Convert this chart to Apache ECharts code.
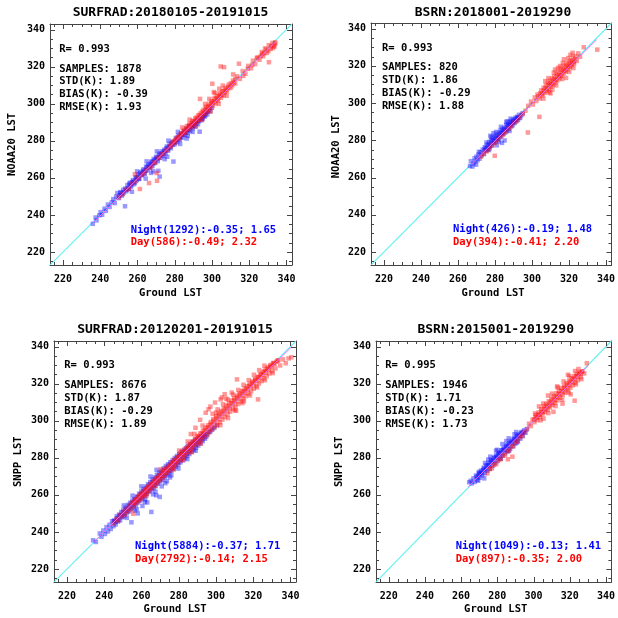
<!DOCTYPE html>
<html><head><meta charset="utf-8">
<script src="https://cdn.jsdelivr.net/npm/echarts@6/dist/echarts.min.js"></script>
<style>html,body{margin:0;padding:0;background:#fff}#c{width:618px;height:618px}</style>
</head><body><div id="c"></div>
<script>
// ---------- axis values ----------
const axisRange = [213, 343];
const majorTicks = [220, 240, 260, 280, 300, 320, 340];
const minorTicks = [215, 225, 230, 235, 245, 250, 255, 265, 270, 275, 285, 290, 295, 305, 310, 315, 325, 330, 335];

// ---------- texts ----------
const titles = ['SURFRAD:20180105-20191015', 'BSRN:2018001-2019290', 'SURFRAD:20120201-20191015', 'BSRN:2015001-2019290'];
const xNames = ['Ground LST', 'Ground LST', 'Ground LST', 'Ground LST'];
const yNames = ['NOAA20 LST', 'NOAA20 LST', 'SNPP LST', 'SNPP LST'];
const rValues = ['0.993', '0.993', '0.993', '0.995'];
const sampleCounts = ['1878', '820', '8676', '1946'];
const stdValues = ['1.89', '1.86', '1.87', '1.71'];
const biasValues = ['-0.39', '-0.29', '-0.29', '-0.23'];
const rmseValues = ['1.93', '1.88', '1.89', '1.73'];
const nightTexts = ['Night(1292):-0.35; 1.65', 'Night(426):-0.19; 1.48', 'Night(5884):-0.37; 1.71', 'Night(1049):-0.13; 1.41'];
const dayTexts = ['Day(586):-0.49; 2.32', 'Day(394):-0.41; 2.20', 'Day(2792):-0.14; 2.15', 'Day(897):-0.35; 2.00'];

// ---------- data: [ground LST, satellite LST] ----------
const n20SurfNight = [[236,235.2],[237.5,238.6],[238,237.1],[239.5,239.8],[240.2,241.5],[241,240.1],[242.3,243.4],[243,242.2],[244.1,245.6],[245,244.3],[246.2,246.9],[247,248.5],[247.8,246.4],[248.5,249.9],[249.2,251.8],[250,249.1],[250.8,252.3],[251.5,250.4],[252.3,253.6],[253.3,244.7],[253.9,252.8],[254.6,256.1],[255.2,254.0],[256,257.4],[256.7,255.9],[257.5,258.8],[258.1,256.6],[259,260.3],[259.6,258.7],[260.4,261.9],[261,259.5],[261.8,263.1],[262.5,261.4],[263.2,264.6],[263.9,262.2],[264.6,266.0],[265.2,264.1],[266,267.5],[266.7,265.3],[267.4,268.6],[268,266.4],[268.7,270.2],[269.5,268.1],[270.2,271.4],[270.9,269.0],[271.2,263.8],[271.6,273.0],[271.9,260.7],[272.3,270.8],[273,274.3],[273.6,271.9],[274.4,275.2],[275,273.1],[275.8,276.9],[276.5,274.7],[277.2,278.3],[277.9,276.0],[278.6,279.4],[279.3,268.8],[279.9,278.1],[280.6,281.5],[281.3,279.2],[282,282.8],[282.7,280.4],[283.4,283.9],[284.1,281.6],[284.8,285.2],[285.5,283.1],[286.2,286.4],[286.9,284.3],[287.6,287.9],[288.3,285.4],[289,288.6],[289.7,286.8],[290.4,289.8],[291.1,287.6],[291.8,290.7],[292.5,288.9],[293.4,284.9],[293.9,291.9],[294.6,292.2],[295.3,293.4],[296,293.0],[296.8,295.1],[297.5,294.3],[298.3,296.4],[299.1,296.0],[300,297.8],[264.4,259.6],[268.5,263.5],[257,252.5],[276,271.4],[287,282.6]];
const n20SurfNightCore = [[250.4,250.6],[251.1,251.9],[251.9,251.3],[252.7,252.1],[253.4,254.2],[254.1,253.5],[254.9,254.4],[255.6,256.8],[256.3,255.2],[257.1,257.6],[257.8,258.0],[258.5,257.3],[259.3,259.9],[260,260.6],[260.7,259.4],[261.4,262.4],[262.2,261.8],[262.9,263.8],[263.6,262.9],[264.3,264.0],[265,265.7],[265.7,266.5],[266.4,265.9],[267.1,267.4],[267.8,268.9],[268.5,267.7],[269.2,269.5],[269.9,270.8],[270.6,270.1],[271.3,271.0],[272,272.4],[272.7,273.2],[273.4,272.6],[274.1,274.0],[274.8,274.3],[275.5,276.1],[276.2,275.5],[276.9,276.4],[277.6,277.0],[278.3,278.6],[279,277.8],[279.7,279.2],[280.4,279.6],[281.1,280.7],[281.8,280.9],[282.5,282.2],[283.2,282.1],[283.9,283.3],[284.6,283.4],[285.3,284.6],[286,284.8],[286.7,285.9],[287.4,286.0],[288.1,287.2],[288.8,287.5],[289.5,288.4],[290.2,288.1],[290.9,289.6],[291.6,289.4],[292.3,291.0],[293,290.5],[293.7,292.4],[294.4,291.1],[295.1,292.0],[295.8,294.2],[296.5,293.7],[297.2,295.6],[267.3,262.7],[274.6,270.1],[282.9,278.3],[289.6,284.8],[286.4,281.2],[259.8,263.5],[264.9,268.9],[270.4,274.3],[276.6,280.1],[281.7,284.8]];
const n20SurfDay = [[250,249.5],[252,251.2],[254,253.6],[255.5,254.2],[257,256.8],[258.6,262],[259,258.1],[260.5,259.9],[261.3,254],[262,261.6],[263.5,262.4],[264.5,263.9],[266.2,257.2],[266,265.4],[267.5,266.1],[268.5,268.3],[269.5,268.2],[270.3,262.6],[270.5,258.4],[271,270.6],[272,271.1],[273,272.8],[274,272.9],[275,274.8],[276,275.0],[277,276.9],[278,277.1],[279,279.3],[280,278.8],[281,281.2],[282,281.0],[283,283.4],[284,283.2],[285,285.8],[285.8,284.4],[286.5,287.9],[287.3,286.1],[288,289.2],[288.8,287.3],[289.5,290.6],[290.3,289.0],[291,292.1],[291.8,290.2],[292.5,293.6],[293.3,291.4],[293.6,302.6],[294,295.0],[294.8,293.1],[295.5,296.7],[296.2,294.6],[297,298.3],[297.7,296.0],[298.4,299.9],[299.1,297.6],[299.8,301.4],[300.2,310.8],[300.5,299.0],[301,306.3],[301.2,302.8],[301.9,300.3],[302.6,304.2],[303.3,301.7],[304,305.6],[304.7,320.1],[304.8,303.2],[305.5,306.9],[306.3,304.6],[306.5,319.7],[307,308.5],[308,306.7],[309,310.3],[310.2,308.8],[311.3,312.5],[312.5,310.9],[313.5,314.8],[314.5,321.6],[315,313.4],[316.5,317.6],[318,316.2],[319.5,320.4],[321,319.1],[322,323.2],[323.2,321.4],[324.5,325.0],[325.5,323.7],[326.8,327.9],[327,326.9],[327.5,325.6],[328.5,329.8],[329.5,327.4],[330.6,322.4],[330.5,331.6],[331.5,329.6],[332.5,332.8],[333.3,331.4],[333.5,330.8],[334,333.1]];
const n20SurfDayCore = [[278.5,278.2],[279.5,279.9],[280.5,280.4],[281.5,281.9],[282.5,282.0],[283.5,284.1],[284.5,284.2],[285.3,285.0],[286.1,286.7],[286.9,286.6],[287.7,288.3],[288.5,287.9],[289.3,289.5],[290.1,290.8],[290.9,290.2],[291.7,292.5],[292.5,291.6],[293.3,294.0],[294.1,293.4],[294.9,295.8],[295.7,295.0],[296.5,297.6],[297.3,296.7],[298.1,298.8],[298.9,298.2],[299.7,300.3],[300.5,300.6],[301.3,301.2],[302.1,302.9],[302.9,302.4],[303.7,304.0],[304.5,304.9],[305.3,304.4],[306.1,306.8],[306.9,306.0],[307.7,307.6],[308.5,309.1],[309.3,308.4],[310.1,311.0],[310.9,310.0],[311.7,311.4],[312.5,313.3],[296.3,299.9],[298.6,302.6],[301.5,305.7],[303.9,308.1],[305.8,309.8],[294.7,291.3],[299.2,295.7],[303.6,299.9],[307.9,304.3],[291.4,287.9],[288,291.4],[284,287.2],[311.4,315.8],[316.8,315.0],[319.2,318.8],[321.6,320.9],[324.1,324.6],[326.2,325.7],[328.1,327.3],[329.2,329.3],[330.3,328.4],[331.8,331.0],[332.8,330.0],[333.9,332.4]];

const n20BsrnNight = [[266.5,266.2],[267,268.8],[267.8,265.9],[268.4,267.5],[269,270.3],[269.5,268.6],[270,271.2],[270.6,269.3],[271.1,272.4],[271.7,270.1],[272.2,273.6],[272.8,271.9],[273.4,275.0],[274,272.6],[274.5,276.3],[275.1,274.4],[275.7,277.5],[276.2,275.0],[276.8,279.1],[277.3,276.4],[277.9,280.0],[278.4,277.2],[278.9,281.3],[279.5,278.6],[280,282.2],[280.5,279.4],[281,283.1],[281.5,280.5],[282,284.0],[282.5,281.6],[283,285.2],[283.5,282.3],[284,286.0],[284.5,283.4],[285,286.7],[285.5,284.1],[286,288.2],[286.5,285.3],[287,288.8],[287.5,286.2],[288,289.6],[288.5,287.4],[289,290.5],[289.5,288.0],[290,291.3],[290.5,289.2],[291,292.0],[291.5,290.1],[292,292.6],[292.5,291.0],[293,293.7],[293.6,292.0],[294.2,293.4],[295,294.6],[283.8,278.6],[285.2,279.9],[281,277.3],[277.5,282.4],[279.2,283.8],[286.8,290.2],[269.8,266.9]];
const n20BsrnNightCore = [[274.3,274.8],[275,275.9],[275.8,275.7],[276.5,277.8],[277.2,277.1],[278,278.5],[278.7,279.9],[279.4,279.6],[280.2,280.7],[280.9,281.8],[281.6,281.1],[282.3,282.8],[283.1,284.1],[283.8,283.9],[284.5,285.1],[285.3,286.0],[286,285.6],[286.7,287.3],[287.4,288.0],[288.2,288.3],[288.9,289.2],[289.6,289.9],[290.3,290.3],[291.1,291.0],[291.8,292.0],[292.6,292.2],[280.6,284.5],[283.2,287.2],[286.1,289.9],[278.1,281.8],[275.4,278.8],[288.4,291.6],[282.1,279.4],[287.9,285.0],[276.8,274.7],[271.3,273.8]];
const n20BsrnDay = [[272.5,271.2],[274,272.8],[275.5,274.0],[277,275.6],[278.5,277.3],[279.9,271.7],[280,278.6],[281.5,280.2],[283,281.9],[284.5,283.1],[286,284.6],[287.5,286.4],[289,287.6],[290.5,289.5],[292,290.6],[293.5,292.4],[295,294.1],[296.5,295.9],[297.8,284.2],[298,298.5],[299.5,300.8],[300.5,299.2],[301.5,303.0],[302.3,301.1],[303,304.6],[304,292.6],[304.2,302.4],[305,306.8],[305.6,304.1],[306.3,308.2],[306.9,305.5],[307.5,309.6],[308,306.3],[308.6,310.9],[309.2,307.5],[309.8,312.0],[310.3,308.9],[310.9,313.2],[311.5,309.7],[312,314.3],[312.6,311.0],[313.2,315.6],[313.7,312.1],[314.3,316.7],[314.9,313.3],[315.4,317.9],[316,314.6],[316.5,319.0],[317.1,315.8],[317.6,320.1],[318.2,316.9],[318.8,321.3],[319.3,318.0],[319.9,322.2],[320.5,319.2],[321,323.0],[321.6,320.3],[322.2,324.5],[322.8,321.1],[323.5,325.2],[324.2,322.6],[325,326.7],[322,327],[328,330],[335.3,328.7],[326,324.8],[310,305.2],[312.5,318.0],[315.2,319.9],[318.4,313.5],[307.2,311.8]];
const n20BsrnDayCore = [[303.5,303.6],[304.5,305.3],[305.5,305.0],[306.4,306.6],[307.3,307.9],[308.2,307.8],[309,309.6],[309.8,310.4],[310.6,310.3],[311.4,311.8],[312.2,312.7],[313,312.6],[313.8,314.3],[314.6,315.1],[315.4,314.8],[316.2,316.5],[317,317.6],[317.8,317.4],[318.6,319.2],[319.4,320.0],[320.2,319.7],[321,321.2],[321.8,322.3],[322.6,322.0],[323.4,323.6],[308.9,313.4],[311.8,316.4],[314.1,318.9],[316.7,321.6],[319.6,324.2],[306.2,302.4],[309.4,305.7],[313.1,309.5],[316.3,312.9],[320.1,316.7],[322.4,318.8],[317.3,323.5],[320.8,325.9],[311,307.2]];

const snppSurfNight = [[234,235.5],[235.5,234.6],[237.6,239.2],[238.5,237.4],[239.5,240.8],[240.4,238.9],[241.2,242.6],[242,240.3],[242.8,243.9],[243.5,241.6],[244.2,245.8],[244.9,243.1],[245.5,246.2],[246.1,244.0],[246.7,248.4],[247.3,245.6],[247.9,249.3],[248.5,246.2],[249.1,250.7],[249.7,247.9],[250.3,251.9],[250.9,248.6],[251.5,253.0],[252.1,250.2],[252.7,254.6],[253.3,251.1],[253.9,255.7],[254.6,245.2],[254.5,252.4],[255.1,256.9],[255.7,253.5],[256.3,257.8],[256.9,254.4],[257.5,259.1],[258,250],[258.1,255.9],[258.7,260.6],[259.3,257.0],[259.9,261.8],[260.5,258.1],[261.1,263.2],[261.7,259.6],[262.3,264.5],[262.9,260.3],[263.5,265.8],[264.1,261.7],[264.7,266.9],[265.3,250.8],[265.3,262.8],[265.9,268.3],[266.5,263.6],[267.1,269.4],[267.7,264.7],[268.3,270.8],[268.9,266.0],[269.5,272.1],[269.8,258.9],[270.1,267.2],[270.7,273.0],[271.3,268.3],[271.9,274.4],[272.5,269.5],[273.1,275.6],[273.7,270.6],[274.3,276.5],[274.9,271.7],[275.5,277.6],[276.1,272.9],[276.7,278.8],[277.3,274.0],[277.9,279.9],[278.5,275.2],[279.1,281.0],[279.7,276.3],[280.3,282.1],[280.9,277.5],[281.5,283.2],[282.1,278.6],[282.7,284.1],[283.3,279.8],[283.9,285.3],[284.5,280.9],[285.1,286.4],[285.7,282.0],[286.3,287.4],[286.9,283.2],[287.5,288.5],[288.1,284.3],[288.7,289.4],[289.3,285.4],[289.9,290.2],[290.5,286.6],[291.1,291.1],[291.7,287.8],[292.3,291.8],[292.9,289.0],[293.5,292.4],[294.1,290.3],[294.8,291.3],[295.5,292.6],[296.2,293.9],[297,294.2],[298,295.4],[299,296.1],[300.5,297.4],[262,257.5],[260.5,254],[267.5,261.8],[272.8,266.3],[256.5,251.5],[276,270.5]];
const snppSurfNightCore = [[245.2,245.9],[246,245.3],[246.8,247.4],[247.6,246.6],[248.4,249.0],[249.2,248.4],[250,250.6],[250.8,249.8],[251.6,252.3],[252.4,251.5],[253.2,253.9],[254,253.1],[254.8,255.7],[255.6,254.6],[256.4,257.3],[257.2,256.1],[258,258.7],[258.8,257.6],[259.6,260.4],[260.4,259.2],[261.2,261.9],[262,260.9],[262.8,263.6],[263.6,262.4],[264.4,265.2],[265.2,263.9],[266,266.8],[266.8,265.4],[267.6,268.5],[268.4,266.9],[269.2,270.1],[270,268.5],[270.8,271.6],[271.6,270.1],[272.4,273.2],[273.2,271.6],[274,274.7],[274.8,273.1],[275.6,276.2],[276.4,274.6],[277.2,277.8],[278,276.3],[278.8,279.3],[279.6,277.7],[280.4,280.8],[281.2,279.3],[282,282.2],[282.8,280.8],[283.6,283.6],[284.4,282.3],[285.2,285.1],[286,283.8],[286.8,286.6],[287.6,285.3],[288.4,287.9],[289.2,286.9],[290,289.1],[290.8,288.4],[291.6,290.5],[292.4,290.1],[293.2,291.6],[294,292.8],[250.5,254.3],[255.2,259.6],[259.9,264.6],[264.8,269.9],[268.1,273.5],[252.1,247.6],[257.4,252.3],[261.8,256.1],[266.2,260.3],[270.9,264.6],[275.3,269.4],[279.8,274.2],[284.6,279.3],[289.1,283.8],[263.1,255.9],[267.9,259.8],[273.6,267.3]];
const snppSurfDay = [[245,244.6],[246.5,246.9],[247.5,246.1],[248.5,249.2],[249.5,248.3],[250.5,251.1],[251.2,249.4],[252,252.6],[252.8,251.0],[253.5,254.3],[254.2,252.1],[255,255.8],[255.6,249.8],[255.8,253.9],[256.5,257.2],[257.2,255.4],[258,258.9],[258.7,256.7],[259.4,260.2],[260.1,258.0],[260.8,261.7],[261.5,259.6],[262.2,263.1],[262.9,260.7],[263.6,264.4],[264.3,262.1],[265,266.0],[265.7,263.5],[266.4,267.3],[267.1,264.8],[267.8,268.9],[268.5,266.3],[269.2,270.2],[269.9,267.6],[270.6,271.6],[271.3,268.9],[272,273.1],[272.7,270.4],[273.4,274.5],[274.1,271.9],[274.8,275.9],[275.5,273.1],[276.2,277.4],[276.9,274.5],[277.6,278.8],[278.3,275.9],[279,280.3],[279.7,277.4],[280.4,281.7],[281.1,278.7],[281.8,283.2],[282.5,280.1],[283.2,284.7],[283.9,281.4],[284.6,286.0],[285.3,282.9],[286,287.5],[286.7,284.2],[287.4,288.9],[288.1,285.6],[288.8,290.4],[289.5,287.0],[290.2,291.8],[290.9,288.3],[291.6,293.1],[292.3,289.7],[293,294.6],[293.7,291.0],[294.4,296.2],[295.1,292.3],[295.8,297.6],[296.5,293.8],[297.2,299.3],[297.9,295.1],[298.6,300.9],[299.3,296.5],[300,302.4],[300.7,297.8],[301.4,303.9],[302.1,299.2],[302.8,305.3],[303.5,300.6],[304.2,306.8],[304.9,302.0],[305.6,308.2],[306.3,303.4],[307,309.5],[307.7,304.9],[308.4,310.9],[309.1,306.3],[309.8,312.2],[310.5,307.7],[311.2,313.5],[311.9,309.0],[312.6,314.8],[313.3,310.4],[314,316.0],[314.7,311.9],[315.4,317.3],[316.1,313.2],[316.8,318.6],[317.5,314.6],[318.2,319.9],[318.9,315.9],[319.6,321.2],[320.3,317.3],[321,322.5],[321.7,318.7],[322.4,323.7],[323.1,320.1],[323.8,325.0],[324.5,321.4],[325.2,326.3],[325.9,322.8],[326.6,327.6],[327.3,324.1],[328,328.8],[328.7,325.5],[329.4,330.1],[330.1,326.8],[331,331.2],[332,328.2],[333,332.4],[334.5,329.8],[336,333.1],[337.5,331.0],[339,333.6],[340.5,334.2],[291.5,300.5],[294.5,304.3],[297,307.6],[299.5,309.8],[302.5,311.5],[304.7,314.3],[311.3,322.3],[303.2,312.6],[296,306.2],[300.2,304.4],[305.5,311.9],[308.5,315.2],[315,310.5],[322.6,311.5],[310.8,305.4],[289,296.2],[286.5,292.8]];
const snppSurfDayCore = [[255.5,255.9],[256.3,256.2],[257.1,257.7],[257.9,257.4],[258.7,259.3],[259.5,259.1],[260.3,260.9],[261.1,260.6],[261.9,262.5],[262.7,262.3],[263.5,264.0],[264.3,263.9],[265.1,265.7],[265.9,265.4],[266.7,267.2],[267.5,267.1],[268.3,268.8],[269.1,268.6],[269.9,270.5],[270.7,270.2],[271.5,272.1],[272.3,271.8],[273.1,273.7],[273.9,273.4],[274.7,275.3],[275.5,275.0],[276.3,276.9],[277.1,276.6],[277.9,278.5],[278.7,278.2],[279.5,280.1],[280.3,279.8],[281.1,281.7],[281.9,281.5],[282.7,283.4],[283.5,283.0],[284.3,285.0],[285.1,284.6],[285.9,286.7],[286.7,286.2],[287.5,288.3],[288.3,287.8],[289.1,289.9],[289.9,289.4],[290.7,291.5],[291.5,291.0],[292.3,293.2],[293.1,292.6],[293.9,294.9],[294.7,294.2],[295.5,296.5],[296.3,295.9],[297.1,298.2],[297.9,297.5],[298.7,299.9],[299.5,299.0],[300.3,301.5],[301.1,300.7],[301.9,303.1],[302.7,302.3],[303.5,304.7],[304.3,303.9],[305.1,306.3],[305.9,305.5],[306.7,307.9],[307.5,307.0],[308.3,309.5],[309.1,308.7],[309.9,311.0],[310.7,310.3],[311.5,312.6],[312.3,311.9],[313.1,314.2],[313.9,313.4],[314.7,315.8],[315.5,315.0],[316.3,317.3],[317.1,316.6],[317.9,318.9],[318.7,318.2],[319.5,320.5],[320.3,319.8],[321.1,322.0],[321.9,321.4],[322.7,323.5],[323.5,323.0],[324.3,325.1],[325.1,324.5],[325.9,326.6],[326.7,326.0],[327.5,328.1],[328.3,327.6],[329.1,329.6],[329.9,329.1],[330.7,331.0],[331.5,330.6],[332.5,331.8],[333.5,332.6],[298.2,303.8],[300.9,306.1],[303.8,308.9],[306.4,311.4],[309.2,314.1],[312,316.6],[314.8,319.4],[317.6,321.9],[320.4,324.8],[323.2,327.3],[326,329.7],[302.4,297.6],[306.5,301.4],[310.3,305.6],[314.2,309.5],[318.3,313.6],[322.1,317.9],[326.3,321.8],[330.5,325.7],[280.2,283.9],[284.8,288.8],[288.5,292.9],[292.8,297.4],[277.2,273.7],[282.6,278.8],[287.1,283.0],[291.9,287.6],[270.3,273.8],[262.5,259.3]];

const snppBsrnNight = [[264.5,266.8],[265.3,267.6],[266,266.2],[266.8,268.9],[267.5,267.0],[268.2,270.4],[268.9,268.1],[269.6,271.8],[270.3,269.2],[271,273.1],[271.7,270.5],[272.4,274.6],[273.1,271.8],[273.8,275.9],[274.5,273.0],[275.2,277.3],[275.9,274.1],[276.6,278.8],[277.3,275.6],[278,280.0],[278.7,277.0],[279.4,281.4],[280.1,278.2],[280.8,282.7],[281.5,279.6],[282.2,284.0],[282.9,281.0],[283.6,285.3],[284.3,282.4],[285,286.5],[285.7,283.5],[286.4,287.9],[287.1,284.9],[287.8,289.1],[288.5,286.2],[289.2,290.4],[289.9,287.6],[290.6,291.6],[291.3,289.0],[292,292.8],[292.7,290.3],[293.4,293.9],[294.1,291.7],[294.8,294.8],[295.6,293.5],[296.2,295.3],[270,272.4],[275,279.1],[280,284.3],[285,289.0],[289.5,292.7],[272.8,268.9]];
const snppBsrnNightCore = [[268.6,269.8],[269.3,269.6],[270,271.0],[270.7,271.9],[271.4,271.6],[272.1,273.3],[272.8,274.1],[273.5,273.8],[274.2,275.6],[274.9,276.2],[275.6,275.9],[276.3,277.8],[277,278.5],[277.7,278.1],[278.4,279.9],[279.1,280.6],[279.8,280.2],[280.5,281.9],[281.2,282.6],[281.9,282.3],[282.6,284.0],[283.3,284.5],[284,284.2],[284.7,286.0],[285.4,286.6],[286.1,286.1],[286.8,287.9],[287.5,288.4],[288.2,288.1],[288.9,289.8],[289.6,290.2],[290.3,289.9],[291,291.7],[291.7,292.1],[292.4,291.8],[293.1,293.4],[293.8,293.2],[294.5,294.0],[276.1,280.6],[279.3,283.9],[282.8,287.4],[286.3,290.5],[290.4,293.9],[273.2,277.2],[281.9,279.5],[286.4,283.7],[290.8,288.2],[269.4,267.6]];
const snppBsrnDay = [[274.5,271.6],[275.8,273.9],[277,274.3],[278.2,276.1],[279.4,276.6],[280.6,278.7],[281.8,279.2],[283,281.2],[284.2,281.5],[285.4,283.6],[286.6,284.0],[287.8,286.1],[289,286.3],[290.2,288.5],[291.4,288.9],[292.6,291.1],[293.8,291.8],[295,293.9],[288.3,280.6],[285.8,279.2],[296.5,295.6],[297.5,298.4],[298.5,297.1],[299.5,300.6],[300.5,299.2],[301.3,303.1],[302,300.4],[302.8,304.5],[303.5,302.1],[304.2,306.2],[304.9,303.4],[305.6,307.8],[306.3,304.6],[307,309.1],[307.7,305.9],[308.4,310.5],[309.1,307.2],[309.8,311.9],[310.5,308.5],[311.2,313.3],[311.9,309.7],[312.6,314.8],[313.3,311.0],[314,316.1],[314.7,312.4],[315.4,317.6],[316.1,313.8],[316.8,318.9],[317.5,315.1],[318.2,320.3],[318.9,316.4],[319.6,321.6],[320.3,317.8],[321,322.9],[321.7,319.1],[322.4,324.0],[323.1,320.5],[323.8,325.2],[324.5,321.8],[325.3,326.0],[326,323.5],[327,326.6],[328,325.5],[329.4,331],[322.7,310.8],[319,324.8],[313,318.5],[308,313.6],[303,307.7],[316,309.2],[311,304.8],[305.5,301.1],[320.5,314.2],[324.8,327.9]];
const snppBsrnDayCore = [[300.3,300.7],[301.1,301.9],[301.9,301.6],[302.7,303.3],[303.5,303.2],[304.3,304.9],[305.1,304.7],[305.9,306.6],[306.7,306.3],[307.5,308.2],[308.3,307.9],[309.1,309.8],[309.9,309.5],[310.7,311.4],[311.5,311.0],[312.3,313.0],[313.1,312.6],[313.9,314.6],[314.7,314.2],[315.5,316.2],[316.3,315.8],[317.1,317.8],[317.9,317.4],[318.7,319.4],[319.5,319.0],[320.3,321.0],[321.1,320.6],[321.9,322.6],[322.7,322.2],[323.5,324.1],[324.3,323.8],[325.1,325.5],[325.9,325.2],[326.7,326.5],[310.2,314.6],[313.4,317.9],[316.6,321.2],[319.8,324.1],[322.9,326.8],[305.4,309.3],[308.2,304.1],[312.2,307.9],[315.8,311.3],[319.4,315.2],[323.4,319.6],[326.4,322.4],[300.8,303.9],[303.9,300.2]];

// regression (fit) line segments [x1, y1, x2, y2]
const n20SurfFit = [236, 235.6, 334, 333.2];
const n20BsrnFit = [267, 266.8, 335, 334.1];
const snppSurfFit = [234, 234.2, 341, 340.2];
const snppBsrnFit = [264, 264.3, 330, 329.6];
// 1:1 reference line [x1, y1, x2, y2]
const oneToOne = [213, 213, 343, 343];

const nightData = [n20SurfNight.concat(n20SurfNightCore), n20BsrnNight.concat(n20BsrnNightCore), snppSurfNight.concat(snppSurfNightCore), snppBsrnNight.concat(snppBsrnNightCore)];
const dayData = [n20SurfDay.concat(n20SurfDayCore), n20BsrnDay.concat(n20BsrnDayCore), snppSurfDay.concat(snppSurfDayCore), snppBsrnDay.concat(snppBsrnDayCore)];
const fitData = [n20SurfFit, n20BsrnFit, snppSurfFit, snppBsrnFit];

// ---------- layout ----------
const grids = [
  {left: 50, top: 24, width: 242, height: 241},
  {left: 371, top: 23, width: 243, height: 242},
  {left: 54, top: 341, width: 242, height: 241},
  {left: 376, top: 341, width: 239, height: 241}
];
const textPos = [
  {title: [170.5, 12.7], xName: [170.5, 293.3], yName: [12, 144.5], statX: 59.3, statY: [49.3, 69, 81.7, 94.7, 107.3], dnX: 130.7, dnY: [230, 242.7]},
  {title: [493, 12.7], xName: [493, 293.3], yName: [336.3, 146.7], statX: 382, statY: [48.3, 67.7, 80.7, 93.7, 106.7], dnX: 453, dnY: [229.3, 242.3]},
  {title: [175, 330], xName: [175, 609], yName: [18.3, 461.7], statX: 64.3, statY: [365.7, 385.3, 398.3, 411, 424], dnX: 135, dnY: [546.7, 559.3]},
  {title: [495.7, 330], xName: [495.7, 609], yName: [339.7, 461.7], statX: 385.3, statY: [365.7, 385.3, 398.3, 411, 424], dnX: 455.7, dnY: [546.7, 559.3]}
];

const FONT = '"DejaVu Sans Mono", "Liberation Mono", monospace';
const frameColor = '#444';
const MAJOR_LEN = 5, MINOR_LEN = 3;

function mkAxis(g, pos, withLabel) {
  return {
    gridIndex: g, type: 'value', min: axisRange[0], max: axisRange[1], position: pos,
    axisLine: {show: true, onZero: false, lineStyle: {color: frameColor, width: 1}},
    axisTick: {show: false},
    axisLabel: {show: withLabel, customValues: majorTicks, fontFamily: FONT, fontWeight: 'bold', fontSize: 10,
      color: '#000', margin: (pos === 'bottom') ? 9 : 5},
    splitLine: {show: false}, minorTick: {show: false}, minorSplitLine: {show: false}
  };
}

// tick marks on all four frame sides, positioned through the axis scales
function tickRenderer(len) {
  return function (params, api) {
    const v = api.value(0);
    const cs = params.coordSys;
    const px = Math.round(api.coord([v, axisRange[0]])[0]) + 0.5;
    const py = Math.round(api.coord([axisRange[0], v])[1]) + 0.5;
    const st = {stroke: frameColor, lineWidth: 1};
    const bottom = cs.y + cs.height, right = cs.x + cs.width;
    return {type: 'group', children: [
      {type: 'line', shape: {x1: px, y1: bottom, x2: px, y2: bottom - len}, style: st},
      {type: 'line', shape: {x1: px, y1: cs.y, x2: px, y2: cs.y + len}, style: st},
      {type: 'line', shape: {x1: cs.x, y1: py, x2: cs.x + len, y2: py}, style: st},
      {type: 'line', shape: {x1: right, y1: py, x2: right - len, y2: py}, style: st}
    ]};
  };
}
// straight segment from data value pairs, through the axis scales
function segmentRenderer(color, width) {
  return function (params, api) {
    const p1 = api.coord([api.value(0), api.value(1)]);
    const p2 = api.coord([api.value(2), api.value(3)]);
    return {type: 'line', shape: {x1: p1[0], y1: p1[1], x2: p2[0], y2: p2[1]}, style: {stroke: color, lineWidth: width}};
  };
}

const xAxes = [], yAxes = [], series = [], graphics = [];
for (let g = 0; g < 4; g++) {
  xAxes.push(mkAxis(g, 'bottom', true), mkAxis(g, 'top', false));
  yAxes.push(mkAxis(g, 'left', true), mkAxis(g, 'right', false));
  const ax = g * 2;
  series.push({type: 'custom', xAxisIndex: ax, yAxisIndex: ax, data: [oneToOne], encode: {x: [0, 2], y: [1, 3]},
    renderItem: segmentRenderer('#5cf2f2', 1.1), clip: true, z: 1, silent: true, animation: false});
  series.push({type: 'scatter', xAxisIndex: ax, yAxisIndex: ax, data: nightData[g], symbol: 'rect', symbolSize: 4.5,
    itemStyle: {color: 'rgba(20,20,255,0.55)'}, z: 2, silent: true, animation: false});
  series.push({type: 'scatter', xAxisIndex: ax, yAxisIndex: ax, data: dayData[g], symbol: 'rect', symbolSize: 4.5,
    itemStyle: {color: 'rgba(255,20,20,0.55)'}, z: 3, silent: true, animation: false});
  series.push({type: 'custom', xAxisIndex: ax, yAxisIndex: ax, data: [fitData[g]], encode: {x: [0, 2], y: [1, 3]},
    renderItem: segmentRenderer('#ff66ff', 1), clip: true, z: 4, silent: true, animation: false});
  series.push({type: 'custom', xAxisIndex: ax, yAxisIndex: ax, data: majorTicks.map(v => [v, v]),
    renderItem: tickRenderer(MAJOR_LEN), clip: false, z: 6, silent: true, animation: false});
  series.push({type: 'custom', xAxisIndex: ax, yAxisIndex: ax, data: minorTicks.map(v => [v, v]),
    renderItem: tickRenderer(MINOR_LEN), clip: false, z: 6, silent: true, animation: false});

  const p = textPos[g];
  const txt = (x, y, s, size, fill, align, rot) => ({
    type: 'text', x: x, y: y, rotation: rot || 0, silent: true, z: 10,
    style: {text: s, font: 'bold ' + size + 'px ' + FONT, fill: fill, align: align, verticalAlign: 'middle'}
  });
  graphics.push(txt(p.title[0], p.title[1], titles[g], 13, '#000', 'center'));
  graphics.push(txt(p.xName[0], p.xName[1], xNames[g], 10.5, '#000', 'center'));
  graphics.push(txt(p.yName[0], p.yName[1], yNames[g], 10.5, '#000', 'center', Math.PI / 2));
  const stats = ['R= ' + rValues[g], 'SAMPLES: ' + sampleCounts[g], 'STD(K): ' + stdValues[g], 'BIAS(K): ' + biasValues[g], 'RMSE(K): ' + rmseValues[g]];
  stats.forEach((s, i) => graphics.push(txt(p.statX, p.statY[i], s, 10.5, '#000', 'left')));
  graphics.push(txt(p.dnX, p.dnY[0], nightTexts[g], 10.5, '#0000ff', 'left'));
  graphics.push(txt(p.dnX, p.dnY[1], dayTexts[g], 10.5, '#ff0000', 'left'));
}

const chart = echarts.init(document.getElementById('c'), null, {renderer: 'canvas'});
chart.setOption({
  animation: false,
  backgroundColor: '#fff',
  grid: grids.map(gr => Object.assign({containLabel: false}, gr)),
  xAxis: xAxes, yAxis: yAxes, series: series, graphic: graphics
});
</script></body></html>
